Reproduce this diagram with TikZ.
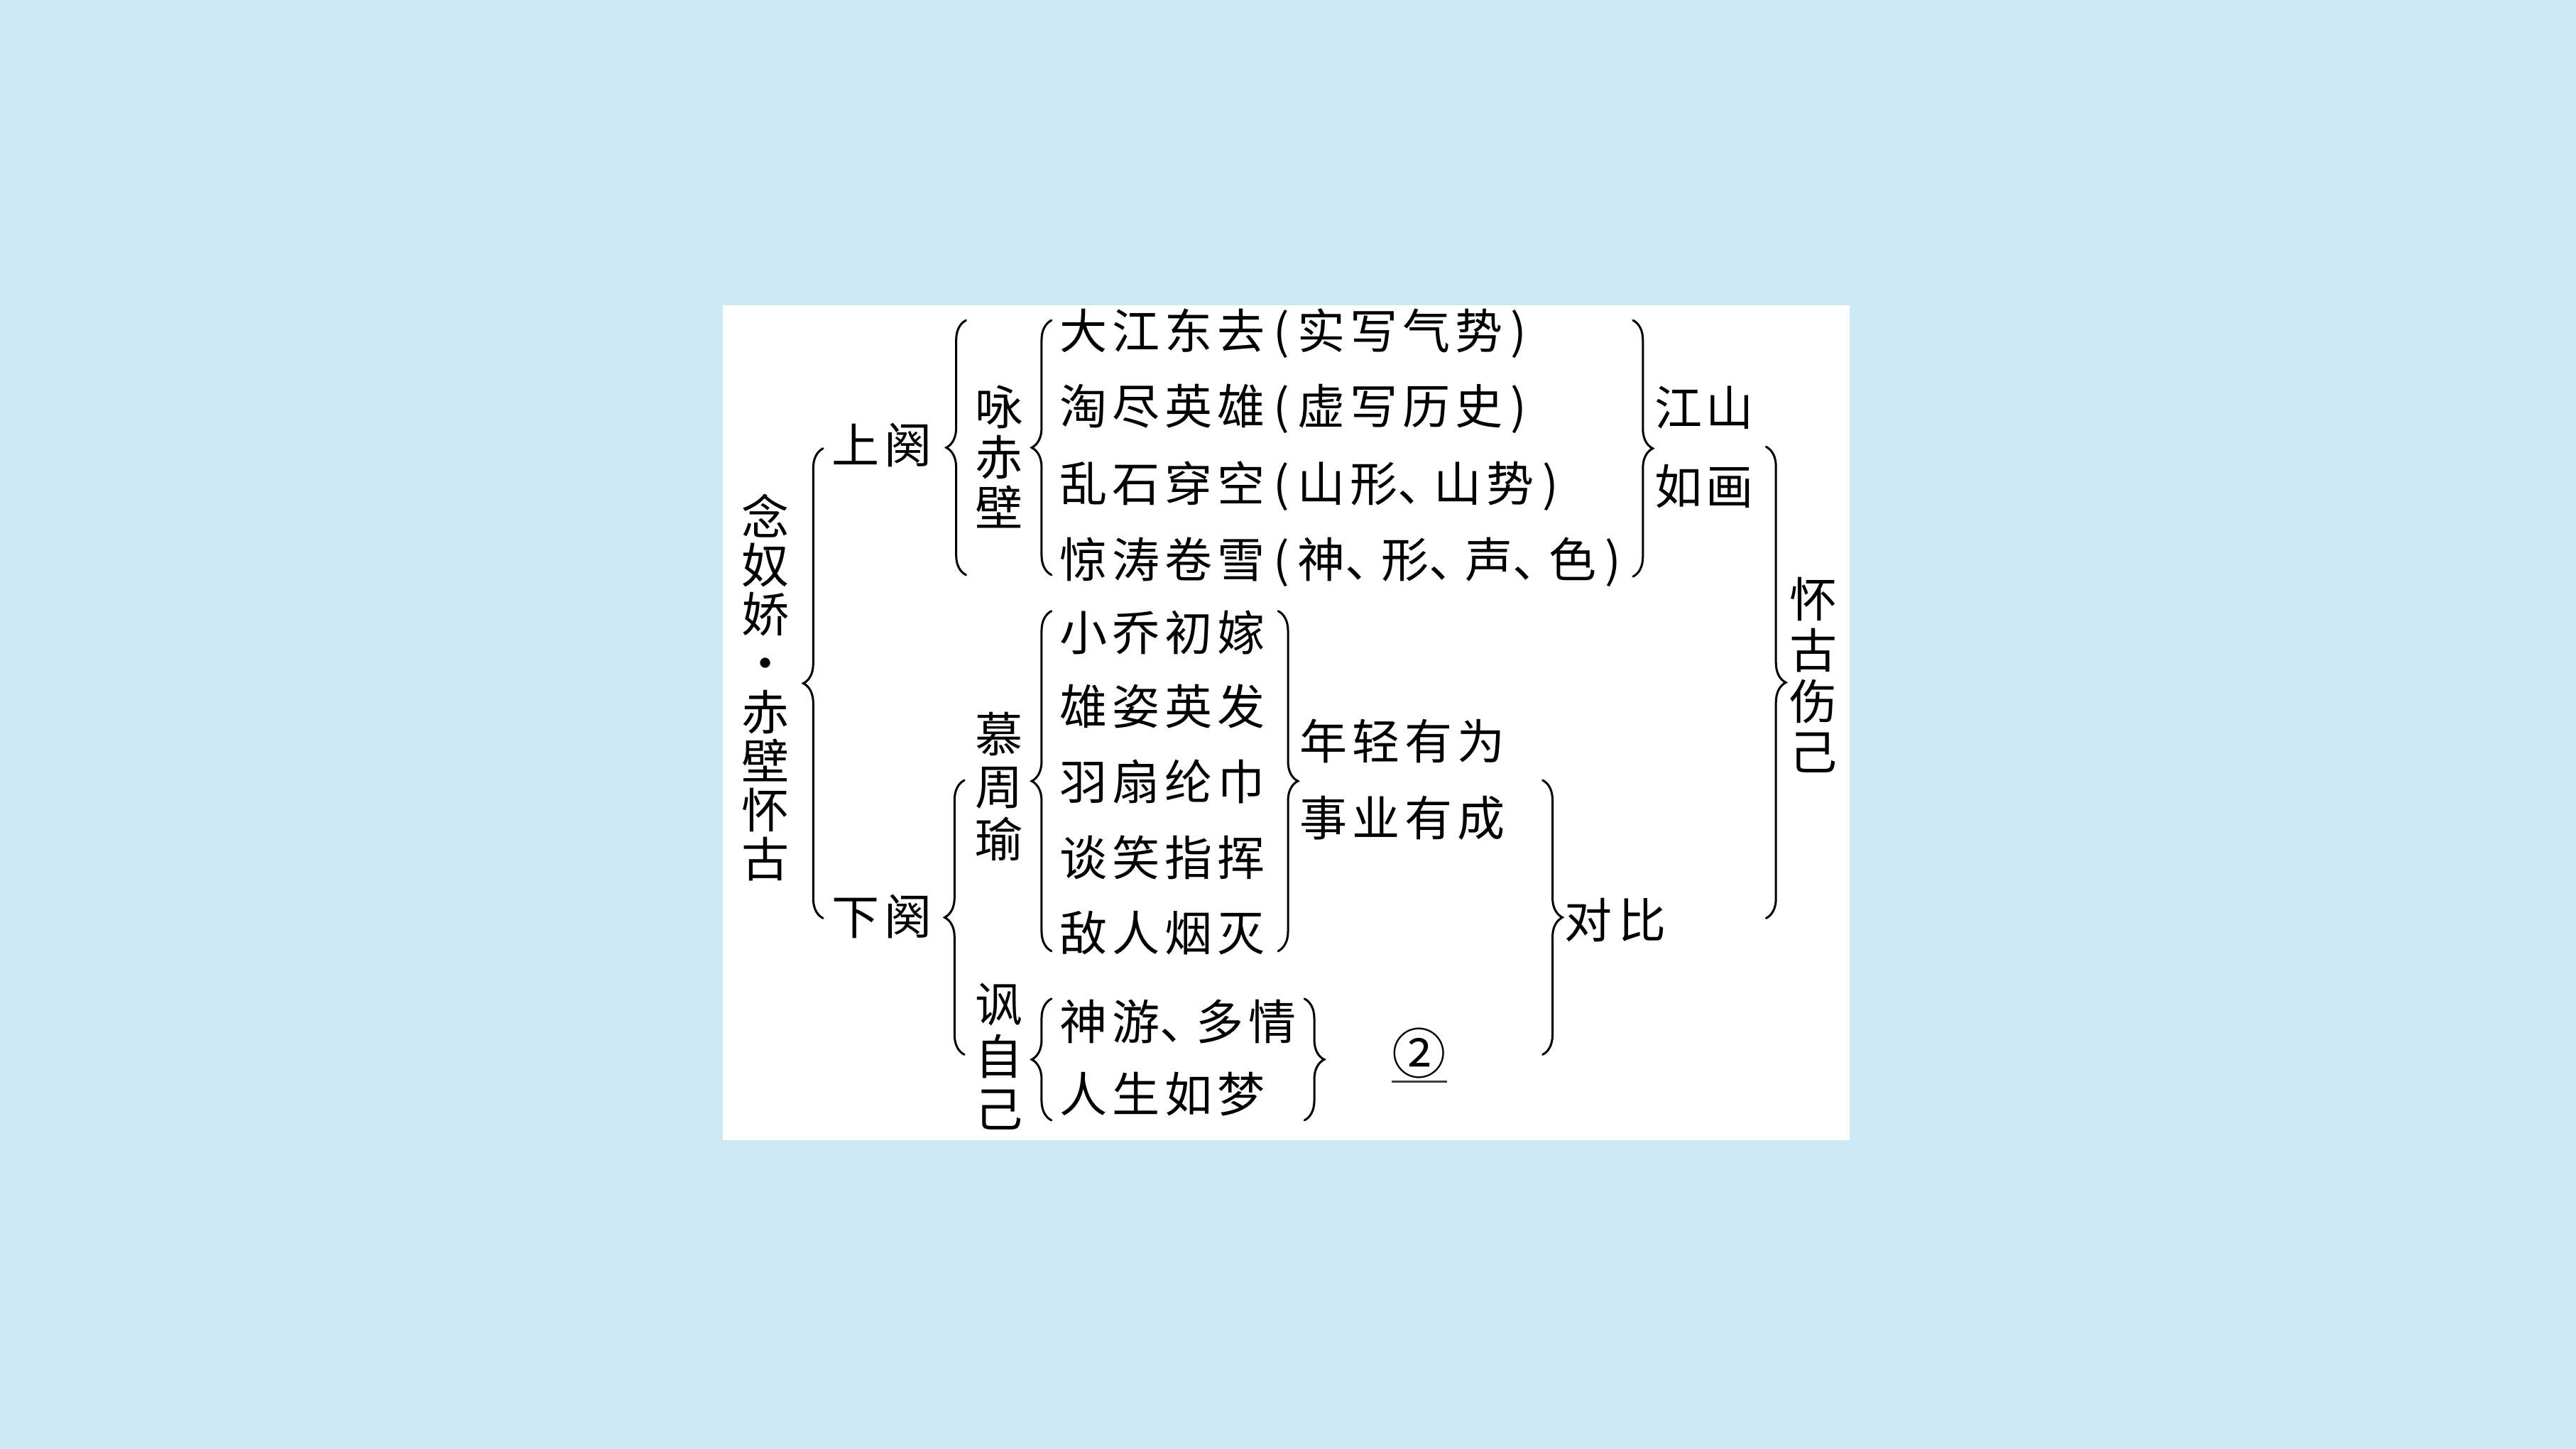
\documentclass[tikz,border=0pt]{standalone}
\usepackage{fontspec}
\newfontfamily\cjk[LetterSpace=10]{Noto Sans CJK SC}
\newfontfamily\cjkv{Noto Sans CJK SC}
\usetikzlibrary{decorations.pathreplacing}
\definecolor{bgblue}{RGB}{205,233,244}
\newcommand\dn{\makebox[22pt][l]{、}}
\newcommand\lpar{\makebox[20pt][c]{(}}
\newcommand\rpar{\makebox[20pt][c]{)}}
\tikzset{
  txt/.style={font=\cjk\fontsize{29}{32}\selectfont, inner sep=0pt, anchor=west},
  vtxt/.style={font=\cjkv\fontsize{29}{#1}\selectfont, inner sep=0pt, align=center},
  bracepath/.style={decorate, decoration={brace, amplitude=12pt}, line width=1.3pt, line cap=round},
}
\begin{document}
\begin{tikzpicture}[x=1pt, y=-1pt]
\useasboundingbox (0,0) rectangle (1568,882);
\fill[bgblue] (0,0) rectangle (1568,882);
\fill[white] (440,186) rectangle (1126,694);

% vertical titles
\node[vtxt=29.8] (title) at (466,418.5) {念\\奴\\娇\\·\\赤\\壁\\怀\\古};
\node[vtxt=30.6] (yong) at (608,278) {咏\\赤\\壁};
\node[vtxt=32] (mu) at (608,479) {慕\\周\\瑜};
\node[vtxt=32] (feng) at (608,643) {讽\\自\\己};
\node[vtxt=31] (huai) at (1104,411) {怀\\古\\伤\\己};

% horizontal labels
\node[txt] (sq) at (506,271) {上\hspace{3pt}阕};
\node[txt] (xq) at (506,558) {下\hspace{3pt}阕};
\node[txt] (l1) at (645,203) {大江东去\lpar 实写气势\rpar};
\node[txt] (l2) at (645,249) {淘尽英雄\lpar 虚写历史\rpar};
\node[txt] (l3) at (645,296) {乱石穿空\lpar 山形\dn 山势\rpar};
\node[txt] (l4) at (645,342) {惊涛卷雪\lpar 神\dn 形\dn 声\dn 色\rpar};
\node[txt] (m1) at (645,385) {小乔初嫁};
\node[txt] (m2) at (645,430) {雄姿英发};
\node[txt] (m3) at (645,476) {羽扇纶巾};
\node[txt] (m4) at (645,522) {谈笑指挥};
\node[txt] (m5) at (645,568) {敌人烟灭};
\node[txt] (s1) at (645,622) {神游\dn 多情};
\node[txt] (s2) at (645,666) {人生如梦};
\node[txt] (n1) at (791,451) {年轻有为};
\node[txt] (n2) at (791,498) {事业有成};
\node[txt] (db) at (952,560) {对\hspace{4pt}比};
\node[txt] (js) at (1007,248) {江\hspace{2pt}山};
\node[txt] (rh) at (1007,296) {如\hspace{2pt}画};
\node[inner sep=0pt, font=\cjkv\fontsize{33}{36}\selectfont] (num) at (864,641) {②};
\draw[line width=1.2pt, draw=black!75] ([yshift=-2pt]num.south west) -- ([yshift=-2pt]num.south east);

% brace end points
\coordinate (bA1) at (501,559); \coordinate (bA2) at (501,273);
\coordinate (bB1) at (588,350); \coordinate (bB2) at (588,195);
\coordinate (bC1) at (640,350); \coordinate (bC2) at (640,195);
\coordinate (bD1) at (587,642); \coordinate (bD2) at (587,475);
\coordinate (bE1) at (640,579); \coordinate (bE2) at (640,372);
\coordinate (bF1) at (640,682); \coordinate (bF2) at (640,608);
\coordinate (rA1) at (778,372); \coordinate (rA2) at (778,579);
\coordinate (rB1) at (794,608); \coordinate (rB2) at (794,682);
\coordinate (rC1) at (994,195); \coordinate (rC2) at (994,351);
\coordinate (rD1) at (939,475); \coordinate (rD2) at (939,642);
\coordinate (rE1) at (1075,272); \coordinate (rE2) at (1075,559);

\draw[bracepath] (bA1) -- (bA2);
\draw[bracepath] (bB1) -- (bB2);
\draw[bracepath] (bC1) -- (bC2);
\draw[bracepath] (bD1) -- (bD2);
\draw[bracepath] (bE1) -- (bE2);
\draw[bracepath] (bF1) -- (bF2);
\draw[bracepath] (rA1) -- (rA2);
\draw[bracepath] (rB1) -- (rB2);
\draw[bracepath] (rC1) -- (rC2);
\draw[bracepath] (rD1) -- (rD2);
\draw[bracepath] (rE1) -- (rE2);
\end{tikzpicture}
\end{document}
